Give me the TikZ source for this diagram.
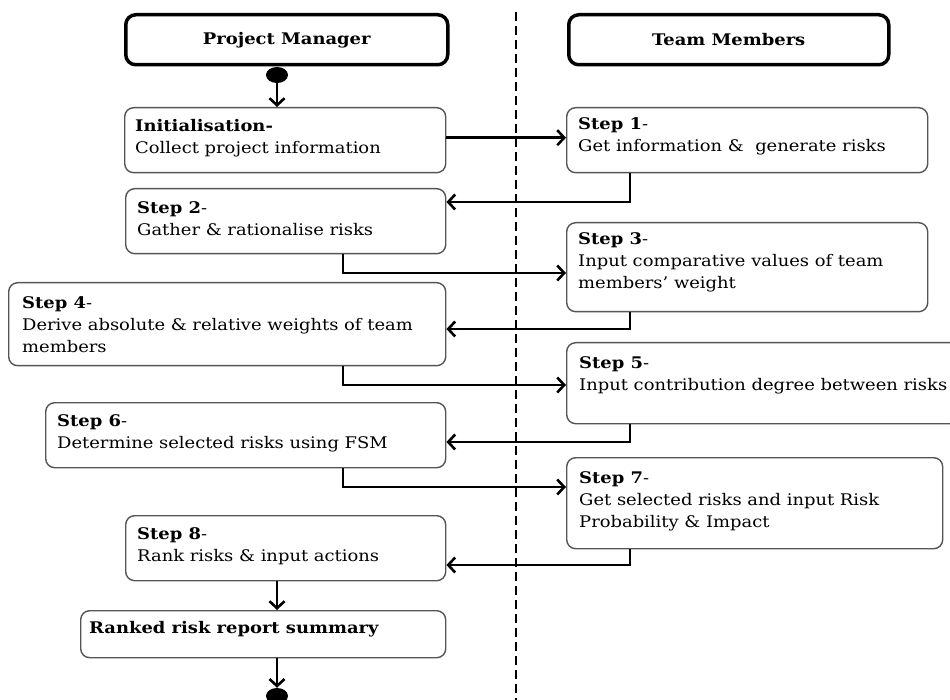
\documentclass[tikz,border=0pt]{standalone}
\usepackage{fontspec}
\setmainfont{DejaVu Serif}[FakeStretch=1.12]
\usetikzlibrary{arrows.meta,shapes.geometric}
\tikzset{
  lane/.style={draw=black,line width=3.5pt,rounded corners=10pt,fill=white,anchor=north west,inner sep=0pt,
    font=\fontsize{16}{22}\selectfont\bfseries},
  sbox/.style={draw={rgb,255:red,85;green,85;blue,85},line width=1.4pt,rounded corners=9pt,fill=white,
    anchor=north west,inner sep=0pt},
  txt/.style={anchor=north west,inner sep=0pt,align=left,font=\fontsize{16}{22}\selectfont},
  conn/.style={line width=2.6pt,-{Straight Barb[length=7pt,width=15pt]}},
  dot/.style={ellipse,fill=black,draw=none,minimum width=22pt,minimum height=16pt,inner sep=0pt},
  lanediv/.style={line width=1.3pt,dash pattern=on 9pt off 5pt}
}
\begin{document}
\begin{tikzpicture}[x=1pt,y=-1pt]
\clip (0,0) rectangle (950,700);
\fill[white] (0,0) rectangle (950,700);
% lane divider
\coordinate (divtop) at (516,12);
\coordinate (divbot) at (516,700);
\draw[lanediv] (divtop) -- (divbot);
% lane headers
\node[lane,minimum width=322pt,minimum height=50pt] (pm) at (124,13) {Project Manager};
\node[lane,minimum width=320pt,minimum height=50pt] (tm) at (567,13) {Team Members};
% boxes
\node[sbox,minimum width=321pt,minimum height=65pt] (init) at (124,107) {};
\node[sbox,minimum width=361pt,minimum height=65pt] (s1) at (566,107) {};
\node[sbox,minimum width=320pt,minimum height=65pt] (s2) at (125,188) {};
\node[sbox,minimum width=361pt,minimum height=89pt] (s3) at (566,222) {};
\node[sbox,minimum width=437pt,minimum height=83pt] (s4) at (8,282) {};
\node[sbox,minimum width=392pt,minimum height=81pt] (s5) at (566,342) {};
\node[sbox,minimum width=400pt,minimum height=65pt] (s6) at (45,402) {};
\node[sbox,minimum width=376pt,minimum height=91pt] (s7) at (566,457) {};
\node[sbox,minimum width=320pt,minimum height=65pt] (s8) at (125,515) {};
\node[sbox,minimum width=365pt,minimum height=47pt] (rk) at (80,610) {};
% texts
\node[txt] (initt) at ([xshift=11pt,yshift=-12pt]init.north west) {\textbf{Initialisation-}\\Collect project information};
\node[txt] (s1t) at ([xshift=12pt,yshift=-10pt]s1.north west) {\textbf{Step 1}-\\Get information \&\ \ generate risks};
\node[txt] (s2t) at ([xshift=12pt,yshift=-13pt]s2.north west) {\textbf{Step 2}-\\Gather \& rationalise risks};
\node[txt] (s3t) at ([xshift=12pt,yshift=-10pt]s3.north west) {\textbf{Step 3}-\\Input comparative values of team\\members’ weight};
\node[txt] (s4t) at ([xshift=14pt,yshift=-14pt]s4.north west) {\textbf{Step 4}-\\Derive absolute \& relative weights of team\\members};
\node[txt] (s5t) at ([xshift=13pt,yshift=-14pt]s5.north west) {\textbf{Step 5}-\\Input contribution degree between risks};
\node[txt] (s6t) at ([xshift=12pt,yshift=-12pt]s6.north west) {\textbf{Step 6}-\\Determine selected risks using FSM};
\node[txt] (s7t) at ([xshift=13pt,yshift=-14pt]s7.north west) {\textbf{Step 7}-\\Get selected risks and input Risk\\Probability \& Impact};
\node[txt] (s8t) at ([xshift=12pt,yshift=-12pt]s8.north west) {\textbf{Step 8}-\\Rank risks \& input actions};
\node[txt] (rkt) at ([xshift=9pt,yshift=-11pt]rk.north west) {\textbf{Ranked risk report summary}};
% start / end
\node[dot] (start) at (277,75) {};
\node[dot] (finish) at (277,696) {};
% connectors
\draw[conn] (start.south) -- (start.south |- init.north);
\draw[conn] ([yshift=2.5pt]init.east) -- ([yshift=2.5pt]init.east -| s1.west);
\draw[conn] ([xshift=64pt]s1.south west) |- ([yshift=-14pt]s2.north east);
\draw[conn] ([xshift=218pt]s2.south west) |- ([yshift=-51pt]s3.north west);
\draw[conn] ([xshift=64pt]s3.south west) |- ([yshift=-47pt]s4.north east);
\draw[conn] ([xshift=335pt]s4.south west) |- ([yshift=-43pt]s5.north west);
\draw[conn] ([xshift=64pt]s5.south west) |- ([yshift=-40pt]s6.north east);
\draw[conn] ([xshift=298pt]s6.south west) |- ([yshift=-30pt]s7.north west);
\draw[conn] ([xshift=64pt]s7.south west) |- ([yshift=-50pt]s8.north east);
\draw[conn] ([xshift=152pt]s8.south west) -- ([xshift=152pt]s8.south west |- rk.north);
\draw[conn] ([xshift=197pt]rk.south west) -- ([xshift=197pt]rk.south west |- finish.north);
\end{tikzpicture}
\end{document}
